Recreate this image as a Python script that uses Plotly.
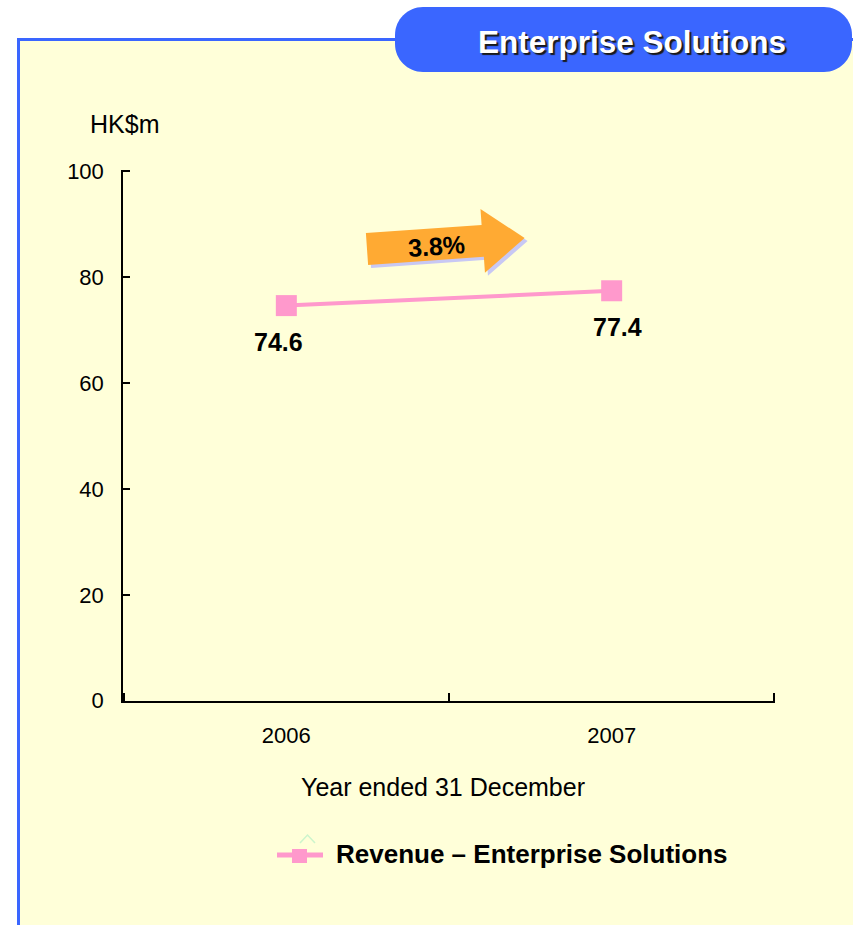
import math
import plotly.graph_objects as go

# ---- data ----
years = ["2006", "2007"]
revenue = [74.6, 77.4]
y_ticks = [0, 20, 40, 60, 80, 100]
series_name = "Revenue – Enterprise Solutions"
panel_title = "Enterprise Solutions"
y_unit = "HK$m"
x_title = "Year ended 31 December"

growth = (revenue[1] / revenue[0] - 1) * 100
x_pos = list(range(len(years)))                       # category slots
x_bounds = [i - 0.5 for i in x_pos] + [x_pos[-1] + 0.5]  # tick marks between slots

# ---- colours ----
PANEL = "#FFFFD9"
BLUE = "#3A66FF"
PINK = "#FF99CC"
ORANGE = "#FFAA33"
LAVENDER = "#C8C8F4"

W, H = 853, 925
L, R, T, B = 123, 775, 170, 701  # plot-area edges in pixels


def px(x):
    return (x - L) / (R - L)


def py(y):
    return (B - y) / (B - T)


def path_from(points, close=True):
    s = "M " + " L ".join(f"{px(x):.5f},{py(y):.5f}" for x, y in points)
    return s + (" Z" if close else "")


def rounded_rect(x0, y0, x1, y1, r):
    k = 0.5523 * r
    P = lambda x, y: f"{px(x):.5f},{py(y):.5f}"
    return (
        f"M {P(x0 + r, y0)} L {P(x1 - r, y0)} "
        f"C {P(x1 - r + k, y0)} {P(x1, y0 + r - k)} {P(x1, y0 + r)} "
        f"L {P(x1, y1 - r)} "
        f"C {P(x1, y1 - r + k)} {P(x1 - r + k, y1)} {P(x1 - r, y1)} "
        f"L {P(x0 + r, y1)} "
        f"C {P(x0 + r - k, y1)} {P(x0, y1 - r + k)} {P(x0, y1 - r)} "
        f"L {P(x0, y0 + r)} "
        f"C {P(x0, y0 + r - k)} {P(x0 + r - k, y0)} {P(x0 + r, y0)} Z"
    )


def block_arrow(ox, oy, length, shaft_h, head_h, head_start, angle_deg, dx=0, dy=0):
    th = math.radians(angle_deg)
    local = [(0, -shaft_h), (head_start, -shaft_h), (head_start, -head_h),
             (length, 0), (head_start, head_h), (head_start, shaft_h), (0, shaft_h)]
    pts = []
    for x, y in local:
        xr = x * math.cos(th) + y * math.sin(th)
        yr = -x * math.sin(th) + y * math.cos(th)
        pts.append((ox + xr + dx, oy + yr + dy))
    return path_from(pts)


fig = go.Figure()

fig.add_trace(go.Scatter(
    x=x_pos, y=revenue, mode="lines+markers", name=series_name, showlegend=False,
    line=dict(color=PINK, width=4),
    marker=dict(symbol="square", size=21, color=PINK),
))

shapes = [
    # yellow panel with blue left/top border
    dict(type="rect", xref="paper", yref="paper", layer="below",
         x0=px(18.5), x1=px(920), y0=py(990), y1=py(39.5),
         fillcolor=PANEL, line=dict(color=BLUE, width=3)),
    # title tab
    dict(type="path", xref="paper", yref="paper", layer="above",
         path=rounded_rect(395, 7, 852, 72, 28), fillcolor=BLUE, line=dict(width=0)),
    # growth arrow shadow + arrow
    dict(type="path", xref="paper", yref="paper", layer="above",
         path=block_arrow(367, 249, 158, 16, 32, 116, 4, dx=3, dy=3),
         fillcolor=LAVENDER, line=dict(width=0)),
    dict(type="path", xref="paper", yref="paper", layer="above",
         path=block_arrow(367, 249, 158, 16, 32, 116, 4),
         fillcolor=ORANGE, line=dict(width=0)),
    # legend key: line with square marker
    dict(type="line", xref="paper", yref="paper", layer="above",
         x0=px(277), x1=px(323), y0=py(855), y1=py(855),
         line=dict(color=PINK, width=5)),
    dict(type="rect", xref="paper", yref="paper", layer="above",
         x0=px(292), x1=px(307), y0=py(863), y1=py(849),
         fillcolor=PINK, line=dict(width=0)),
    # small caret above the legend key
    dict(type="path", xref="paper", yref="paper", layer="above",
         path=path_from([(300, 843), (307.5, 835), (315, 843)], close=False),
         line=dict(color="#CCF5CC", width=1.5)),
]

FONT = "Liberation Sans, Arial, Helvetica, sans-serif"


def note(x, y, text, size, color="black", bold=False, xanchor="center", shadow=None, **kw):
    font = dict(family=FONT, size=size, color=color, weight="bold" if bold else "normal")
    if shadow:
        font["shadow"] = shadow
    return dict(x=px(x), y=py(y), xref="paper", yref="paper", showarrow=False,
                xanchor=xanchor, yanchor="middle", text=text, font=font, **kw)


annotations = [
    # tab title with drop shadow
    note(632, 42, panel_title, 31.5, color="white", bold=True, shadow="2px 2px 1px #1a1a1a"),
    # unit label
    note(88, 124, y_unit, 25, xanchor="left"),
    # x-axis title
    note(443, 787, x_title, 25),
    # growth label
    note(436, 246, f"{growth:.1f}%", 25, bold=True, textangle=-4),
    # legend text
    note(334, 854, series_name, 26, bold=True, xanchor="left"),
]

# value labels under each point
for i, v, xs in zip(x_pos, revenue, [-8, 6]):
    annotations.append(dict(
        x=i, y=v, xref="x", yref="y", showarrow=False, xshift=xs, yshift=-36,
        xanchor="center", yanchor="middle", text=f"{v:.1f}",
        font=dict(family=FONT, size=25, color="black", weight="bold")))

fig.update_layout(
    width=W, height=H,
    margin=dict(l=L, r=W - R, t=T, b=H - B, autoexpand=False),
    paper_bgcolor="white",
    plot_bgcolor="rgba(0,0,0,0)",
    font=dict(family=FONT, color="black"),
    shapes=shapes,
    annotations=annotations,
    showlegend=False,
    xaxis=dict(range=[x_bounds[0] - 0.002, x_bounds[-1] + 0.002],
               tickmode="array", tickvals=x_pos, ticktext=years, ticks="",
               minor=dict(tickmode="array", tickvals=x_bounds, ticks="inside",
                          ticklen=8, tickwidth=1.5, tickcolor="black", showgrid=False),
               showgrid=False, zeroline=False, showline=True, linecolor="black", linewidth=1.5,
               tickfont=dict(family=FONT, size=22, color="black"), ticklabelstandoff=14),
    yaxis=dict(range=[-0.05, 100.2], tickvals=y_ticks, showgrid=False, zeroline=False,
               showline=True, linecolor="black", linewidth=1.5,
               ticks="inside", ticklen=7, tickwidth=1.5, tickcolor="black",
               tickfont=dict(family=FONT, size=22, color="black"), ticklabelstandoff=13),
)

fig.write_html("out.html")
